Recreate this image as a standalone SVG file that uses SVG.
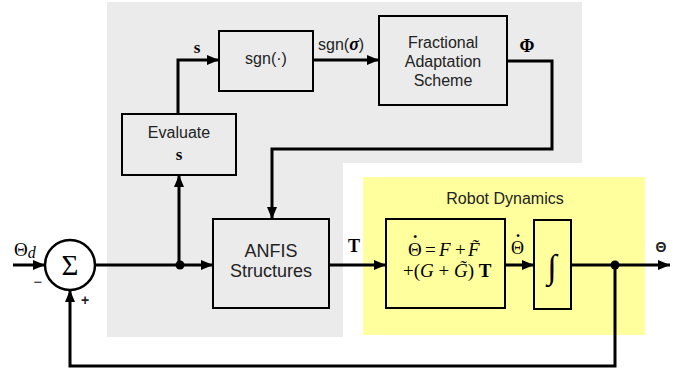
<svg xmlns="http://www.w3.org/2000/svg" width="679" height="375" viewBox="0 0 679 375">
<defs>
<marker id="ah" markerUnits="userSpaceOnUse" markerWidth="12" markerHeight="10" refX="12" refY="5" orient="auto">
<path d="M0,0 L12,5 L0,10 Z" fill="#000"/>
</marker>
<style>
.box{fill:none;stroke:#000;stroke-width:2}
.ln{fill:none;stroke:#000;stroke-width:3}
.sans{font-family:"Liberation Sans",Arial,sans-serif;fill:#222}
.ser{font-family:"Liberation Serif","Times New Roman",serif;fill:#000}
</style>
</defs>
<rect width="679" height="375" fill="#fff"/>
<path d="M107,2 H582 V163 H343 V337 H107 Z" fill="#ebebeb"/>
<rect x="363" y="177" width="282" height="158" fill="#ffff9e"/>

<g id="sum">
<circle cx="70" cy="265" r="25" fill="#fff" stroke="#000" stroke-width="2.5"/>
<text class="ser" x="70" y="275" font-size="29" text-anchor="middle">Σ</text>
<text class="sans" x="38" y="287" font-size="15" text-anchor="middle">−</text>
<text class="sans" x="85" y="305" font-size="14" text-anchor="middle" font-weight="bold">+</text>
</g>
<g id="evaluate">
<rect class="box" x="122" y="114" width="114" height="61" fill="#ebebeb"/>
<text class="sans" x="179" y="138" font-size="16" text-anchor="middle">Evaluate</text>
<text class="ser" x="179" y="160" font-size="17" font-weight="bold" text-anchor="middle">s</text>
</g>
<g id="sgn">
<rect class="box" x="219" y="31" width="94" height="60"/>
<text class="sans" x="266" y="64" font-size="16" text-anchor="middle">sgn(·)</text>
</g>
<g id="fractional">
<rect class="box" x="379" y="16" width="128" height="89"/>
<text class="sans" x="443" y="48" font-size="16" text-anchor="middle">Fractional</text>
<text class="sans" x="443" y="67" font-size="16" text-anchor="middle">Adaptation</text>
<text class="sans" x="443" y="86" font-size="16" text-anchor="middle">Scheme</text>
</g>
<g id="anfis">
<rect class="box" x="213" y="219" width="116" height="89"/>
<text class="sans" x="271" y="257" font-size="18" text-anchor="middle">ANFIS</text>
<text class="sans" x="271" y="277" font-size="18" text-anchor="middle">Structures</text>
</g>
<g id="robot">
<text class="sans" x="505" y="204" font-size="16" text-anchor="middle">Robot Dynamics</text>
<rect class="box" x="386" y="219" width="119" height="89"/>
<text class="ser" y="256" font-size="19"><tspan x="408">Θ</tspan><tspan x="412" dy="-8" font-weight="bold">˙</tspan><tspan x="425" dy="8">=</tspan><tspan x="439" font-style="italic">F</tspan><tspan x="455">+</tspan><tspan x="468" font-style="italic">F̃</tspan></text>
<text class="ser" x="403" y="277" font-size="19">+(<tspan font-style="italic">G</tspan> + <tspan font-style="italic">G̃</tspan>) <tspan font-weight="bold">T</tspan></text>
</g>
<g id="integrator">
<rect class="box" x="534" y="220" width="37" height="89"/>
<text class="ser" x="552" y="278" font-size="34" text-anchor="middle">∫</text>
</g>

<g id="connectors">
<line class="ln" x1="13" y1="265" x2="45" y2="265" marker-end="url(#ah)"/>
<line class="ln" x1="95" y1="265" x2="213" y2="265" marker-end="url(#ah)"/>
<circle cx="180" cy="265" r="4.5" fill="#000"/>
<line class="ln" x1="179" y1="265" x2="179" y2="175" marker-end="url(#ah)"/>
<polyline class="ln" points="178,114 178,60 219,60" marker-end="url(#ah)"/>
<line class="ln" x1="313" y1="60" x2="379" y2="60" marker-end="url(#ah)"/>
<polyline class="ln" points="507,61 552,61 552,149 272,149 272,219" marker-end="url(#ah)"/>
<line class="ln" x1="329" y1="265" x2="386" y2="265" marker-end="url(#ah)"/>
<line class="ln" x1="505" y1="265" x2="534" y2="265" marker-end="url(#ah)"/>
<line class="ln" x1="571" y1="265" x2="670" y2="265" marker-end="url(#ah)"/>
<circle cx="615" cy="265" r="4.5" fill="#000"/>
<polyline class="ln" points="615,265 615,366 70,366 70,290" marker-end="url(#ah)"/>
</g>

<g id="labels">
<text class="ser" x="14" y="256" font-size="19">Θ<tspan font-style="italic" font-size="16" dy="2">d</tspan></text>
<text class="ser" x="197" y="53" font-size="17" font-weight="bold" text-anchor="middle">s</text>
<text class="sans" x="318" y="50" font-size="16">sgn(<tspan class="ser" font-weight="bold" font-style="italic" font-size="18">σ</tspan>)</text>
<text class="ser" x="527" y="52" font-size="18" font-weight="bold" text-anchor="middle">Φ</text>
<text class="ser" x="354" y="252" font-size="18" font-weight="bold" text-anchor="middle">T</text>
<text class="ser" y="254" font-size="18"><tspan x="511">Θ</tspan><tspan x="515" dy="-7" font-weight="bold">˙</tspan></text>
<text class="sans" x="661" y="252" font-size="14" font-weight="bold" text-anchor="middle">Θ</text>
</g>
</svg>
